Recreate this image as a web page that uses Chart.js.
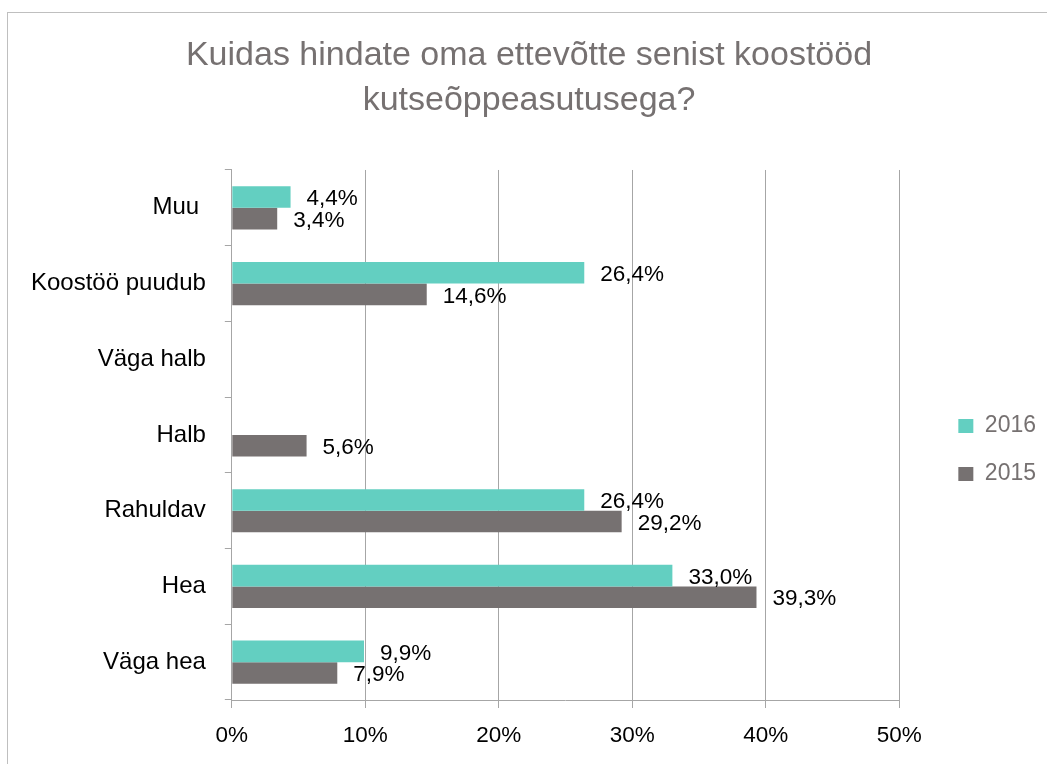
<!DOCTYPE html>
<html lang="et">
<head>
<meta charset="utf-8">
<title>Kuidas hindate oma ettevõtte senist koostööd kutseõppeasutusega?</title>
<script src="https://cdn.jsdelivr.net/npm/chart.js@4"></script>
<style>
  html, body { margin: 0; padding: 0; background: #fff; overflow: hidden; }
  .chart-box {
    position: absolute; left: 7px; top: 12px;
    width: 1100px; height: 800px;
    border: 1px solid #bfbfbf; background: #fff;
  }
  #chartCoop { display: block; }
</style>
</head>
<body>
<div class="chart-box">
  <canvas id="chartCoop" width="1038" height="760"></canvas>
</div>
<script>
/* Koostöö kutseõppeasutusega — 2016 vs 2015 */

const CATEGORIES = ['Muu ', 'Koostöö puudub', 'Väga halb', 'Halb', 'Rahuldav', 'Hea', 'Väga hea'];
const SERIES_2016 = [4.4, 26.4, null, null, 26.4, 33.0, 9.9];
const SERIES_2015 = [3.4, 14.6, null, 5.6, 29.2, 39.3, 7.9];
const X_TICKS = [0, 10, 20, 30, 40, 50];

const FONT = '"Liberation Sans", Arial, sans-serif';
const GRID = '#a6a6a6';
const MUTED = '#767171';

function fmtPct(v) {
  return v.toFixed(1).replace('.', ',') + '%';
}

// value labels just past the end of each bar
const barLabels = {
  id: 'barLabels',
  afterDatasetsDraw(chart) {
    const ctx = chart.ctx;
    ctx.save();
    ctx.font = '22.5px ' + FONT;
    ctx.fillStyle = '#000';
    ctx.textAlign = 'left';
    ctx.textBaseline = 'middle';
    chart.data.datasets.forEach((ds, i) => {
      chart.getDatasetMeta(i).data.forEach((bar, j) => {
        const v = ds.data[j];
        if (v == null) return;
        ctx.fillText(fmtPct(v), bar.x + 16, bar.y + 2);
      });
    });
    ctx.restore();
  }
};

new Chart(document.getElementById('chartCoop'), {
  type: 'bar',
  data: {
    labels: CATEGORIES,
    datasets: [
      { label: '2016', data: SERIES_2016, backgroundColor: '#63cfc1' },
      { label: '2015', data: SERIES_2015, backgroundColor: MUTED }
    ]
  },
  options: {
    indexAxis: 'y',
    responsive: false,
    animation: false,
    categoryPercentage: 0.57,
    barPercentage: 1,
    layout: { padding: { left: 4, right: 0, top: 0, bottom: 10 } },
    plugins: {
      title: {
        display: true,
        text: ['Kuidas hindate oma ettevõtte senist koostööd', 'kutseõppeasutusega?'],
        color: MUTED,
        font: { family: FONT, size: 34, weight: 'normal', lineHeight: 1.3235 },
        padding: { top: 20, bottom: 47 }
      },
      legend: {
        position: 'right',
        fullSize: false,
        // empty title only nudges the two items a bit lower, like the original
        title: { display: true, text: '', padding: 0, font: { size: 25 } },
        labels: {
          boxWidth: 15,
          boxHeight: 14,
          padding: 25,
          color: MUTED,
          font: { family: FONT, size: 23 }
        }
      },
      tooltip: { enabled: false }
    },
    scales: {
      x: {
        min: 0,
        max: 50,
        afterBuildTicks: s => { s.ticks = X_TICKS.map(v => ({ value: v })); },
        ticks: { color: '#000', padding: 14, font: { family: FONT, size: 22.5 }, callback: v => v + '%' },
        grid: { color: GRID, tickLength: 8 },
        border: { color: GRID }
      },
      y: {
        ticks: { color: '#000', padding: 19, font: { family: FONT, size: 24 } },
        grid: { color: GRID, drawOnChartArea: false, tickLength: 7, offset: true },
        border: { color: GRID }
      },
      // empty room between the plot and the legend
      gap: {
        type: 'linear',
        axis: 'y',
        position: 'right',
        display: false,
        afterFit: s => { s.width = 34; }
      }
    }
  },
  plugins: [barLabels]
});
</script>
</body>
</html>
